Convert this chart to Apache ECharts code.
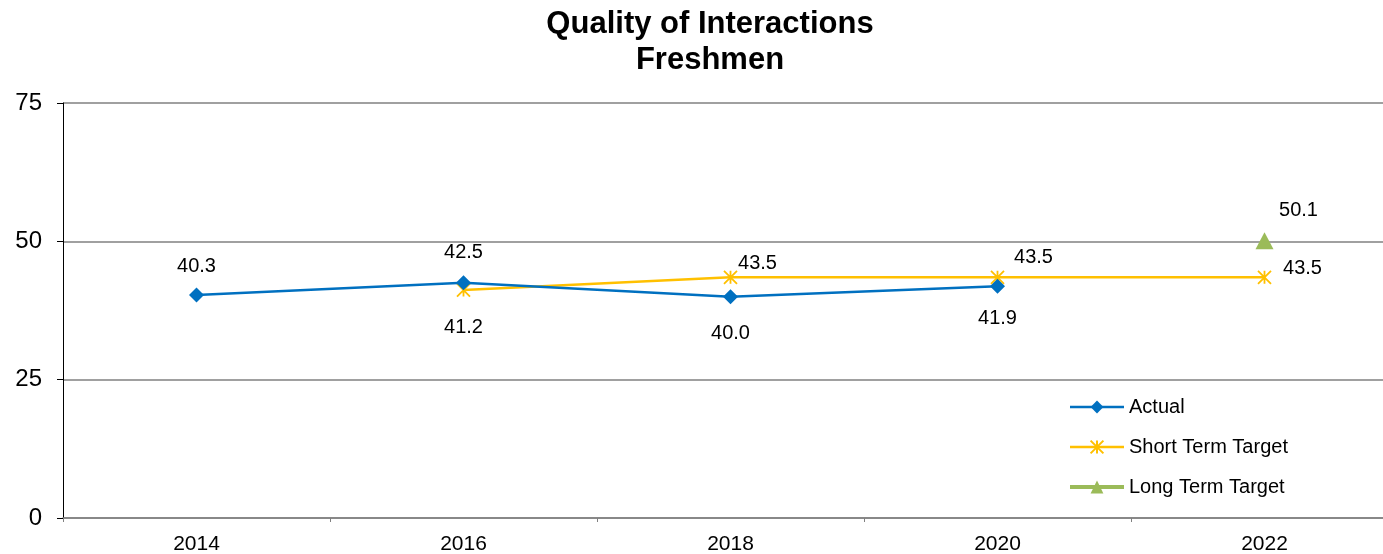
<!DOCTYPE html>
<html>
<head>
<meta charset="utf-8">
<script src="https://cdn.jsdelivr.net/npm/echarts@6/dist/echarts.min.js"></script>
<style>
html,body{margin:0;padding:0;background:#fff;}
#chart{width:1383px;height:554px;}
</style>
</head>
<body>
<div id="chart"></div>
<script>
const categories = ['2014', '2016', '2018', '2020', '2022'];
const actual = [40.3, 42.5, 40.0, 41.9, null];
const shortTerm = [null, 41.2, 43.5, 43.5, 43.5];
const longTerm = [null, null, null, null, 50.1];
const yTicks = [0, 25, 50, 75];

const actualOffsets = [[0, -29], [0, -30], [0, 37], [0, 32], [0, 0]];
const shortOffsets = [[0, 0], [0, 37], [27, -14], [36, -20], [38, -9]];
const longOffsets = [[0, 0], [0, 0], [0, 0], [0, 0], [34, -30]];

const FONT = 'Liberation Sans, Arial, sans-serif';

function withLabels(values, offsets) {
  return values.map((v, i) => v == null ? null : ({
    value: v,
    label: { show: true, position: 'inside', offset: offsets[i] }
  }));
}

const labelStyle = {
  color: '#000', fontFamily: FONT, fontSize: 20,
  formatter: p => Number(p.value).toFixed(1)
};

const chart = echarts.init(document.getElementById('chart'), null, { renderer: 'canvas' });
chart.setOption({
  animation: false,
  backgroundColor: '#fff',
  title: {
    text: 'Quality of Interactions\nFreshmen',
    left: 710, top: 6, textAlign: 'center', padding: 0,
    textStyle: { fontFamily: FONT, fontSize: 31, fontWeight: 'bold', color: '#000', lineHeight: 36 }
  },
  grid: { left: 63, right: -15, top: 103, bottom: 36, outerBoundsMode: 'none', containLabel: false },
  legend: {
    orient: 'vertical', left: 1068, top: 397, padding: 0,
    itemWidth: 54, itemHeight: 16, itemGap: 20,
    textStyle: { fontFamily: FONT, fontSize: 20, color: '#000' },
    data: [
      { name: 'Actual', lineStyle: { width: 2.5 } },
      { name: 'Short Term Target', lineStyle: { width: 2.5 } },
      { name: 'Long Term Target', lineStyle: { width: 4 } }
    ]
  },
  xAxis: {
    type: 'category', data: categories, boundaryGap: true,
    axisLine: { show: true, lineStyle: { color: '#808080', width: 1.5 } },
    axisTick: { show: true, length: 4, interval: 0, lineStyle: { color: '#808080' } },
    axisLabel: { fontFamily: FONT, fontSize: 21, color: '#000', margin: 16, interval: 0 },
    splitLine: { show: false }
  },
  yAxis: {
    type: 'value', min: yTicks[0], max: yTicks[yTicks.length - 1], interval: 25,
    axisLine: { show: true, lineStyle: { color: '#000', width: 1 } },
    axisTick: { show: true, length: 6, lineStyle: { color: '#000' } },
    axisLabel: { fontFamily: FONT, fontSize: 24, color: '#000', margin: 21 },
    splitLine: { show: true, lineStyle: { color: '#808080', width: 1.5 } }
  },
  series: [
    {
      name: 'Actual', type: 'line', data: withLabels(actual, actualOffsets),
      symbol: 'diamond', symbolSize: 15, connectNulls: false,
      lineStyle: { color: '#0070C0', width: 2.5 },
      itemStyle: { color: '#0070C0' },
      label: labelStyle, z: 3
    },
    {
      name: 'Short Term Target', type: 'line', data: withLabels(shortTerm, shortOffsets),
      symbol: 'path://M0,0L12,12M12,0L0,12M6,0L6,12', symbolSize: 13,
      lineStyle: { color: '#FFC000', width: 2.5 },
      itemStyle: { color: '#FFC000', borderColor: '#FFC000', borderWidth: 1.8 },
      label: labelStyle, z: 2
    },
    {
      name: 'Long Term Target', type: 'line', data: withLabels(longTerm, longOffsets),
      symbol: 'triangle', symbolSize: [18, 17],
      lineStyle: { color: '#9BBB59', width: 4 },
      itemStyle: { color: '#9BBB59' },
      label: labelStyle, z: 2
    }
  ]
});
</script>
</body>
</html>
